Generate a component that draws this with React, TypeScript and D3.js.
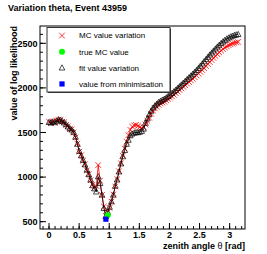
import React from "react";
import * as d3 from "d3";

const theta = [0,0.031,0.063,0.094,0.126,0.157,0.188,0.220,0.251,0.283,
0.314,0.346,0.377,0.408,0.440,0.471,0.503,0.534,0.565,0.597,
0.628,0.660,0.691,0.723,0.754,0.785,0.817,0.848,0.880,0.911,
0.942,0.974,1.005,1.037,1.068,1.100,1.131,1.162,1.194,1.225,
1.257,1.288,1.319,1.351,1.382,1.414,1.445,1.477,1.508,1.539,
1.571,1.602,1.634,1.665,1.696,1.728,1.759,1.791,1.822,1.854,
1.885,1.916,1.948,1.979,2.011,2.042,2.073,2.105,2.136,2.168,
2.199,2.231,2.262,2.293,2.325,2.356,2.388,2.419,2.450,2.482,
2.513,2.545,2.576,2.608,2.639,2.670,2.702,2.733,2.765,2.796,
2.827,2.859,2.890,2.922,2.953,2.985,3.016,3.047,3.079,3.110,3.142];

const fitValues = [1615,1608,1620,1612,1628,1645,1640,1625,1610,1590,
1565,1545,1530,1505,1450,1370,1290,1240,1190,1140,
1080,1030,970,905,870,835,1005,930,800,650,
560,610,665,725,800,900,970,1060,1150,1230,
1300,1370,1415,1465,1485,1495,1500,1500,1505,1515,
1540,1605,1655,1700,1740,1775,1800,1820,1840,1852,
1865,1875,1890,1905,1922,1940,1958,1975,1995,2015,
2035,2055,2075,2095,2115,2135,2155,2175,2197,2220,
2245,2270,2295,2320,2345,2370,2393,2415,2438,2460,
2480,2500,2518,2535,2550,2562,2573,2582,2590,2596,2600];

const mcValues = [1620,1605,1625,1610,1635,1640,1645,1620,1615,1585,
1570,1540,1535,1500,1445,1375,1285,1245,1185,1145,
1075,1035,965,915,880,900,1135,960,800,670,
565,605,655,725,805,895,975,1065,1155,1240,
1320,1400,1470,1530,1565,1580,1585,1575,1560,1550,
1560,1590,1630,1665,1710,1745,1770,1790,1810,1825,
1835,1845,1860,1875,1890,1905,1922,1940,1958,1976,
1994,2012,2030,2048,2066,2084,2102,2120,2140,2160,
2180,2200,2222,2245,2268,2290,2312,2335,2357,2378,
2398,2418,2436,2452,2466,2478,2488,2497,2504,2510,2515];

const trueMC = { theta: 0.975, value: 572 };
const minimised = { theta: 0.944, value: 528 };

const xMajorTicks = [0, 0.5, 1, 1.5, 2, 2.5, 3];
const xTickLabels = ["0", "0.5", "1", "1.5", "2", "2.5", "3"];
const yMajorTicks = [500, 1000, 1500, 2000, 2500];
const yTickLabels = ["500", "1000", "1500", "2000", "2500"];
const legendLabels = ["MC value variation", "true MC value", "fit value variation", "value from minimisation"];

const W = 267, H = 254;
const L = 40, R = 245, T = 26, B = 229;

export default function App() {
  const x = d3.scaleLinear().domain([-0.15, 3.255]).range([L, R]);
  const y = d3.scaleLinear().domain([418, 2694]).range([B, T]);
  const xMinor = d3.range(-1, 33).map((i) => i / 10).filter((v) => x(v) >= L && x(v) <= R);
  const yMinor = d3.range(5, 27).map((i) => i * 100).filter((v) => y(v) >= T && y(v) <= B);

  const line = d3.line<number>().x((_, i) => x(theta[i])).y((d) => y(d));
  const font = "'Liberation Sans', Arial, sans-serif";

  const cross = (cx: number, cy: number, k: string) => (
    <path key={k} d={`M${cx - 2.8},${cy - 2.8}L${cx + 2.8},${cy + 2.8}M${cx - 2.8},${cy + 2.8}L${cx + 2.8},${cy - 2.8}`} stroke="#ff0000" strokeWidth={0.8} fill="none" />
  );
  const tri = (cx: number, cy: number, k: string) => (
    <path key={k} d={`M${cx},${cy - 3}L${cx + 2.8},${cy + 2.2}L${cx - 2.8},${cy + 2.2}Z`} stroke="#000" strokeWidth={0.7} fill="none" />
  );

  const legX = 47, legY = 27.5, legW = 123, legH = 64.5;
  const rowH = legH / 4;

  return (
    <svg width={W} height={H} style={{ position: "absolute", left: 0, top: 0, background: "#fff" }} fontFamily={font}>
      <rect x={0} y={0} width={W} height={H} fill="#fff" />
      <text x={8} y={11} fontSize={9} fontWeight="bold">Variation theta, Event 43959</text>

      {/* data */}
      <path d={line(mcValues) || ""} stroke="#ff0000" strokeWidth={0.8} fill="none" />
      {mcValues.map((v, i) => cross(x(theta[i]), y(v), "c" + i))}
      <path d={line(fitValues) || ""} stroke="#000" strokeWidth={0.8} fill="none" />
      {fitValues.map((v, i) => tri(x(theta[i]), y(v), "t" + i))}
      <circle cx={x(trueMC.theta)} cy={y(trueMC.value)} r={3} fill="#00ff00" />
      <rect x={x(minimised.theta) - 2.6} y={y(minimised.value) - 2.6} width={5.2} height={5.2} fill="#0000ff" />

      {/* frame */}
      <rect x={L} y={T} width={R - L} height={B - T} fill="none" stroke="#000" strokeWidth={1} />

      {/* x axis ticks */}
      {xMinor.map((v) => (
        <line key={"xm" + v} x1={x(v)} x2={x(v)} y1={B} y2={B - 3} stroke="#000" strokeWidth={1} />
      ))}
      {xMajorTicks.map((v, i) => (
        <g key={"xM" + v}>
          <line x1={x(v)} x2={x(v)} y1={B} y2={B - 6} stroke="#000" strokeWidth={1} />
          <text x={x(v)} y={238} fontSize={9} fontWeight="bold" textAnchor="middle">{xTickLabels[i]}</text>
        </g>
      ))}
      {/* y axis ticks */}
      {yMinor.map((v) => (
        <line key={"ym" + v} x1={L} x2={L + 3} y1={y(v)} y2={y(v)} stroke="#000" strokeWidth={1} />
      ))}
      {yMajorTicks.map((v, i) => (
        <g key={"yM" + v}>
          <line x1={L} x2={L + 6} y1={y(v)} y2={y(v)} stroke="#000" strokeWidth={1} />
          <text x={37.5} y={y(v) + 3.2} fontSize={9} fontWeight="bold" textAnchor="end">{yTickLabels[i]}</text>
        </g>
      ))}

      <text x={R} y={248.5} fontSize={9} fontWeight="bold" textAnchor="end">
        zenith angle <tspan fontWeight="normal">θ</tspan> [rad]
      </text>
      <text transform={`translate(16.5,${T}) rotate(-90)`} fontSize={9} fontWeight="bold" textAnchor="end">value of log likelihood</text>

      {/* legend */}
      <rect x={legX + 1} y={legY + 1} width={legW} height={legH} fill="#333" />
      <rect x={legX} y={legY} width={legW} height={legH} fill="#fff" stroke="#333" strokeWidth={1} />
      {legendLabels.map((lab, i) => {
        const cy = legY + rowH * (i + 0.5);
        const cx = 62;
        let m;
        if (i === 0) m = cross(cx, cy, "lc");
        else if (i === 1) m = <circle cx={cx} cy={cy} r={3} fill="#00ff00" />;
        else if (i === 2) m = tri(cx, cy, "lt");
        else m = <rect x={cx - 2.6} y={cy - 2.6} width={5.2} height={5.2} fill="#0000ff" />;
        return (
          <g key={"leg" + i}>
            {m}
            <text x={79} y={cy + 2.9} fontSize={8}>{lab}</text>
          </g>
        );
      })}
    </svg>
  );
}
